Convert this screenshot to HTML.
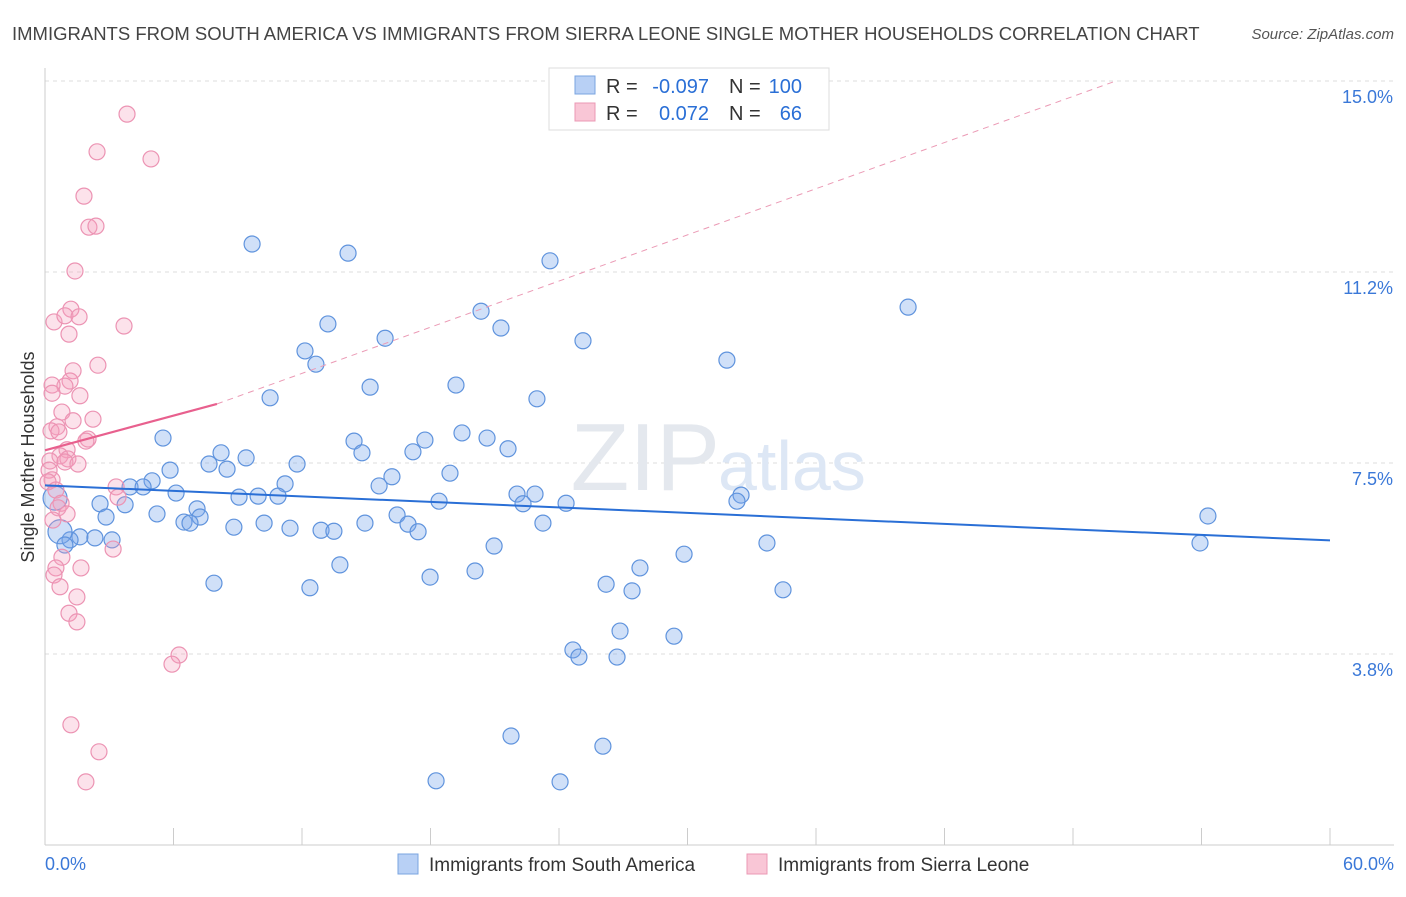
<!DOCTYPE html>
<html><head><meta charset="utf-8"><style>
body{margin:0;background:#fff;font-family:"Liberation Sans",sans-serif}
svg text{font-family:"Liberation Sans",sans-serif}
</style></head><body>
<svg id="chart" width="1406" height="892" viewBox="0 0 1406 892">
<text x="12" y="40" font-size="18.5" fill="#444">IMMIGRANTS FROM SOUTH AMERICA VS IMMIGRANTS FROM SIERRA LEONE SINGLE MOTHER HOUSEHOLDS CORRELATION CHART</text>
<text x="1394" y="39" font-size="15" fill="#555" font-style="italic" text-anchor="end">Source: ZipAtlas.com</text>
<g id="grid"></g>
<text x="720" y="490" font-size="96" fill="#e4e8ee" text-anchor="end" font-family="Liberation Serif">ZIP</text>
<text x="718" y="490" font-size="70" fill="#dde7f5">atlas</text>
<g id="marks"></g>
<text transform="translate(34,457) rotate(-90)" font-size="18" fill="#333" text-anchor="middle">Single Mother Households</text>
<g>
<rect x="549" y="68" width="280" height="62" fill="#fff" stroke="#ddd"/>
<rect x="575" y="76" width="20" height="18" fill="#b8d0f5" stroke="#7aa4e0"/>
<rect x="575" y="103" width="20" height="18" fill="#f9c6d6" stroke="#eb98b4"/>
<text x="606" y="93" font-size="20" fill="#333">R =</text>
<text x="709" y="93" font-size="20" fill="#2a6fd6" text-anchor="end">-0.097</text>
<text x="729" y="93" font-size="20" fill="#333">N =</text>
<text x="802" y="93" font-size="20" fill="#2a6fd6" text-anchor="end">100</text>
<text x="606" y="120" font-size="20" fill="#333">R =</text>
<text x="709" y="120" font-size="20" fill="#2a6fd6" text-anchor="end">0.072</text>
<text x="729" y="120" font-size="20" fill="#333">N =</text>
<text x="802" y="120" font-size="20" fill="#2a6fd6" text-anchor="end">66</text>
</g>
<g>
<rect x="398" y="854" width="20" height="20" fill="#b8d0f5" stroke="#7aa4e0"/>
<text x="429" y="871" font-size="19" fill="#333">Immigrants from South America</text>
<rect x="747" y="854" width="20" height="20" fill="#f9c6d6" stroke="#eb98b4"/>
<text x="778" y="871" font-size="19" fill="#333">Immigrants from Sierra Leone</text>
</g>
</svg>
<script>
const xTicks=[0,6,12,18,24,30,36,42,48,54,60];
const yTickValues=[3.75,7.5,11.25,15];
const yTickLabels=["3.8%","7.5%","11.2%","15.0%"];
const xLabels=["0.0%","60.0%"];
const blueX=[9.67,14.15,23.58,40.30,20.36,13.21,21.29,15.88,25.12,12.14,12.65,31.84,15.18,19.19,10.51,22.97,5.51,19.47,14.43,17.74,20.64,21.62,14.80,17.18,8.22,9.39,7.66,11.77,5.84,8.50,18.91,16.20,5.00,11.21,15.60,3.97,4.58,6.12,9.06,9.95,10.88,22.04,22.88,32.50,2.57,3.74,18.40,22.32,24.33,32.31,7.10,2.85,5.23,7.24,6.49,6.77,16.44,54.30,10.23,8.82,11.44,12.89,13.49,14.94,16.95,17.42,23.25,1.63,2.33,3.13,1.17,53.93,33.71,20.97,29.84,13.77,27.78,20.08,17.98,7.89,26.20,12.37,27.41,34.46,26.85,29.37,24.65,24.93,26.71,21.76,26.05,18.26,24.05,0.70,0.47,0.93];
const blueY=[11.80,11.62,11.47,10.56,10.48,10.23,10.15,9.95,9.90,9.70,9.44,9.52,8.99,9.03,8.78,8.76,7.99,8.09,7.93,7.95,7.99,7.78,7.70,7.72,7.70,7.60,7.48,7.48,7.36,7.38,7.30,7.23,7.15,7.09,7.05,7.03,7.03,6.91,6.83,6.85,6.85,6.89,6.89,6.87,6.70,6.68,6.75,6.70,6.71,6.75,6.60,6.44,6.50,6.44,6.34,6.32,6.48,6.46,6.32,6.24,6.22,6.18,6.16,6.32,6.30,6.15,6.32,6.05,6.03,5.99,5.99,5.93,5.93,5.87,5.71,5.50,5.44,5.38,5.26,5.14,5.12,5.05,4.99,5.01,4.20,4.10,3.83,3.69,3.69,2.14,1.94,1.26,1.24,6.15,6.81,5.89];
const pinkX=[3.83,2.43,4.95,1.82,2.05,2.38,1.40,1.21,0.42,0.93,1.59,3.69,1.12,2.47,1.31,1.17,0.93,0.33,0.33,1.63,0.79,2.24,1.31,0.56,0.28,0.65,2.01,1.91,1.03,0.70,1.07,0.93,0.23,1.54,0.19,0.33,0.14,3.32,0.51,3.41,0.75,0.61,1.03,0.37,3.18,0.79,1.68,0.51,0.42,0.70,1.49,1.12,1.49,6.26,5.93,1.21,2.52,1.91];
const pinkY=[14.35,13.61,13.47,12.74,12.13,12.15,11.27,10.52,10.27,10.39,10.37,10.19,10.03,9.42,9.31,9.11,9.01,9.03,8.87,8.82,8.50,8.36,8.33,8.21,8.13,8.11,7.97,7.93,7.76,7.64,7.58,7.52,7.54,7.48,7.36,7.17,7.13,7.03,6.97,6.83,6.71,6.62,6.50,6.38,5.81,5.65,5.44,5.44,5.30,5.07,4.87,4.55,4.38,3.73,3.55,2.36,1.83,1.24];
const blueTrend=[0,7.06,60,5.98];
const pinkTrend=[0,7.75,8.03,8.66,50,15.0];
const X0=45,X1=1330,Y0=845,Y15=81;
const sx=v=>X0+(X1-X0)*v/60;
const sy=v=>Y0-(Y0-Y15)*v/15;
const NS="http://www.w3.org/2000/svg";
function mk(tag,attrs,parent){const e=document.createElementNS(NS,tag);for(const k in attrs)e.setAttribute(k,attrs[k]);parent.appendChild(e);return e;}
const grid=document.getElementById('grid'),marks=document.getElementById('marks');
yTickValues.forEach((v,i)=>{
 const l=mk('line',{x1:45,x2:1394,y1:sy(v),y2:sy(v),stroke:'#dcdcdc','stroke-dasharray':'4,4'},grid);
 
 
 const t=mk('text',{x:1393,y:sy(v)+22,'font-size':18,fill:'#3a78d8','text-anchor':'end'},grid);t.textContent=yTickLabels[i];
 
 
});
mk('line',{x1:45,x2:45,y1:68,y2:Y0,stroke:'#ccc'},grid);
mk('line',{x1:45,x2:1394,y1:Y0,y2:Y0,stroke:'#ccc'},grid);
xTicks.forEach(v=>{const l=mk('line',{x1:sx(v),x2:sx(v),y1:828,y2:Y0,stroke:'#ccc'},grid);
 
 });
[[0,'start',45],[60,'end',1394]].forEach((p,i)=>{const t=mk('text',{x:p[2],y:870,'font-size':18,fill:'#3a78d8','text-anchor':p[1]},grid);t.textContent=xLabels[i];
 
 });
blueX.forEach((v,i)=>{const big=(i>=blueX.length-3&&i!==blueX.length-1);
 const c=mk('circle',{cx:sx(v),cy:sy(blueY[i]),r:big?12:8,fill:'rgba(120,165,235,0.35)',stroke:'#5f93dd','stroke-width':1.2},marks);
 
 });
pinkX.forEach((v,i)=>{
 const c=mk('circle',{cx:sx(v),cy:sy(pinkY[i]),r:8,fill:'rgba(245,160,190,0.3)',stroke:'#ec93b3','stroke-width':1.2},marks);
 
 });
const bt=mk('line',{x1:sx(blueTrend[0]),y1:sy(blueTrend[1]),x2:sx(blueTrend[2]),y2:sy(blueTrend[3]),stroke:'#2a6fd6','stroke-width':2},marks);


const pt=mk('line',{x1:sx(pinkTrend[0]),y1:sy(pinkTrend[1]),x2:sx(pinkTrend[2]),y2:sy(pinkTrend[3]),stroke:'#e8608e','stroke-width':2.2},marks);


const pd=mk('line',{x1:sx(pinkTrend[2]),y1:sy(pinkTrend[3]),x2:sx(pinkTrend[4]),y2:sy(pinkTrend[5]),stroke:'#eb9ab5','stroke-width':1,'stroke-dasharray':'6,5'},marks);


</script>
</body></html>
